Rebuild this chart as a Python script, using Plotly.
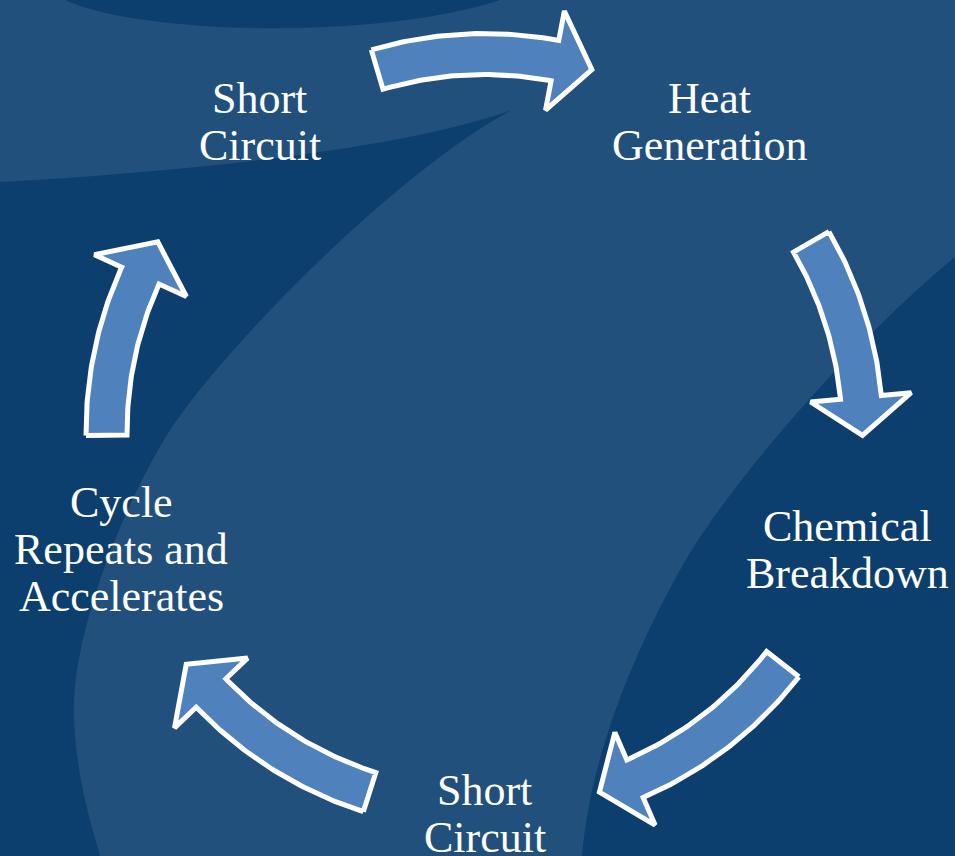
import numpy as np
import plotly.graph_objects as go

# ---------------- data ----------------
node_lines = [
    ["Short", "Circuit"],
    ["Heat", "Generation"],
    ["Chemical", "Breakdown"],
    ["Short", "Circuit"],
    ["Cycle", "Repeats and", "Accelerates"],
]
# arrows (tail angle -> tip angle, degrees, math convention) between consecutive nodes
arrow_tail_deg = [106.5, 30.2, -37.9, -107.7, 180.5]
arrow_tip_deg = [73.5, -0.5, -72.3, -142.1, 149.8]

# ---------------- geometry / style ----------------
W, H = 955, 856
CX, CY = 484.5, 432.0
R_TEXT = 382.0
R_ARROW = 378.0
START_DEG = 126.0
FONT_PX = 44
LINE_PITCH = 47
CAP_H = 29

DARK = "#0C3F6E"
LIGHT = "#21507C"
ARROW_FILL = "#4F81BD"


def pt(r, a_deg):
    a = np.radians(a_deg)
    return CX + r * np.cos(a), CY - r * np.sin(a)


def arrow_polygon(t0, tt, R=R_ARROW, w=20.5, hw=50.5, hl=38.0):
    hl_deg = np.degrees(hl / R)
    tb = tt + hl_deg if tt < t0 else tt - hl_deg
    xs, ys = [], []
    for a in np.linspace(t0, tb, 60):
        x, y = pt(R + w, a); xs.append(x); ys.append(y)
    for r, a in [(R + hw, tb), (R, tt), (R - hw, tb)]:
        x, y = pt(r, a); xs.append(x); ys.append(y)
    for a in np.linspace(tb, t0, 60):
        x, y = pt(R - w, a); xs.append(x); ys.append(y)
    xs.append(xs[0]); ys.append(ys[0])
    return xs, ys


fig = go.Figure()

for t0, tt in zip(arrow_tail_deg, arrow_tip_deg):
    xs, ys = arrow_polygon(t0, tt)
    fig.add_trace(go.Scatter(
        x=xs, y=ys, mode="lines", fill="toself",
        fillcolor=ARROW_FILL, line=dict(color="white", width=5),
        hoverinfo="skip", showlegend=False,
    ))

annotations = []
n = len(node_lines)
for i, lines in enumerate(node_lines):
    ang = START_DEG - 360.0 / n * i
    nx, ny = pt(R_TEXT, ang)
    k = len(lines)
    b1 = ny - (LINE_PITCH * (k - 1) - CAP_H) / 2.0
    for j, line in enumerate(lines):
        base = b1 + LINE_PITCH * j
        annotations.append(dict(
            x=nx, y=base - 15.0, xref="x", yref="y", text=line,
            showarrow=False, xanchor="center", yanchor="middle",
            font=dict(family="Liberation Serif, Times New Roman, serif",
                      size=FONT_PX, color="white"),
        ))

shapes = [
    dict(type="path", layer="below", line=dict(width=0), fillcolor=DARK,
         path="M 65,0 C 140,35 380,40 500,0 Z"),
    dict(type="path", layer="below", line=dict(width=0), fillcolor=DARK,
         path=("M 0,182 C 180,172 400,150 512,110 "
               "C 400,170 230,340 170,430 "
               "C 120,510 70,640 74,720 "
               "C 77,780 90,820 100,856 L 0,856 Z")),
    dict(type="path", layer="below", line=dict(width=0), fillcolor=DARK,
         path=("M 955,257 C 860,335 730,480 680,570 "
               "C 630,660 590,760 582,856 L 955,856 Z")),
]

fig.update_layout(
    width=W, height=H, autosize=False,
    margin=dict(l=0, r=0, t=0, b=0),
    paper_bgcolor=LIGHT, plot_bgcolor=LIGHT,
    xaxis=dict(range=[0, W], visible=False, fixedrange=True),
    yaxis=dict(range=[H, 0], visible=False, fixedrange=True),
    shapes=shapes, annotations=annotations, showlegend=False,
)

fig.write_html(
    "out.html",
    config={"displayModeBar": False},
    post_script="document.body.style.margin='0';document.body.style.overflow='hidden';",
)
